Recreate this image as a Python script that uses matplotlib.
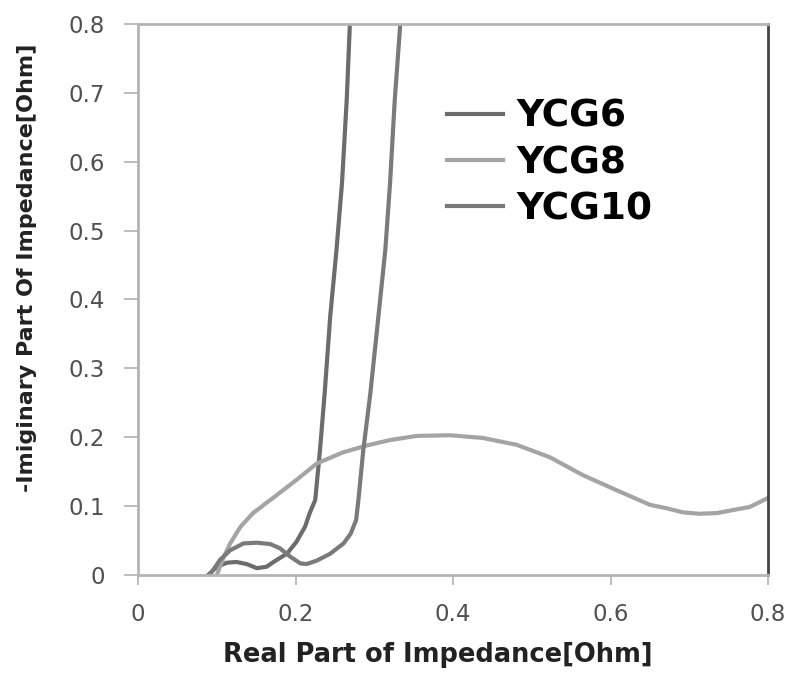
import matplotlib
matplotlib.use('Agg')
import matplotlib.pyplot as plt

# Nyquist data
ycg6_re = [0.089, 0.100, 0.113, 0.125, 0.138, 0.151, 0.163, 0.176, 0.189, 0.201,
           0.212, 0.218, 0.225, 0.231, 0.237, 0.244, 0.252, 0.259, 0.265, 0.269]
ycg6_im = [0.000, 0.012, 0.018, 0.019, 0.016, 0.010, 0.012, 0.022, 0.031, 0.048,
           0.070, 0.090, 0.109, 0.181, 0.264, 0.375, 0.472, 0.569, 0.690, 0.800]

ycg8_re = [0.100, 0.108, 0.117, 0.130, 0.146, 0.168, 0.201, 0.227, 0.260, 0.290,
           0.320, 0.354, 0.396, 0.438, 0.481, 0.523, 0.565, 0.608, 0.650, 0.671,
           0.692, 0.713, 0.735, 0.777, 0.800]
ycg8_im = [0.000, 0.024, 0.046, 0.070, 0.090, 0.109, 0.138, 0.162, 0.178, 0.188,
           0.196, 0.202, 0.203, 0.199, 0.189, 0.171, 0.145, 0.123, 0.102, 0.097,
           0.091, 0.089, 0.090, 0.099, 0.112]

ycg10_re = [0.091, 0.104, 0.117, 0.134, 0.151, 0.168, 0.180, 0.193, 0.206, 0.214,
            0.227, 0.244, 0.261, 0.270, 0.277, 0.280, 0.286, 0.295, 0.303, 0.314,
            0.320, 0.326, 0.333]
ycg10_im = [0.000, 0.022, 0.036, 0.046, 0.047, 0.045, 0.039, 0.027, 0.017, 0.016,
            0.021, 0.031, 0.046, 0.060, 0.080, 0.111, 0.181, 0.264, 0.351, 0.472,
            0.569, 0.690, 0.800]

ticks = [0, 0.1, 0.2, 0.3, 0.4, 0.5, 0.6, 0.7, 0.8]
xticks = [0, 0.2, 0.4, 0.6, 0.8]
tick_labels_y = ['0', '0.1', '0.2', '0.3', '0.4', '0.5', '0.6', '0.7', '0.8']
tick_labels_x = ['0', '0.2', '0.4', '0.6', '0.8']

fig = plt.figure(figsize=(7.91, 6.83), dpi=100)
ax = fig.add_axes([0.1745, 0.158, 0.7965, 0.807])

ax.plot(ycg6_re, ycg6_im, color='#6c6c6c', lw=3, label='YCG6')
ax.plot(ycg8_re, ycg8_im, color='#a4a4a4', lw=3, label='YCG8')
ax.plot(ycg10_re, ycg10_im, color='#7a7a7a', lw=3, label='YCG10')

ax.set_xlim(0, 0.8)
ax.set_ylim(0, 0.8)
ax.set_xticks(xticks)
ax.set_xticklabels(tick_labels_x)
ax.set_yticks(ticks)
ax.set_yticklabels(tick_labels_y)
ax.tick_params(axis='y', length=10, width=1.2, color='#b0b0b0', labelcolor='#505050',
               labelsize=16.5, pad=14)
ax.tick_params(axis='x', length=7, width=1.2, color='#b0b0b0', labelcolor='#505050',
               labelsize=16.5, pad=13)

for side in ['left', 'bottom', 'top']:
    ax.spines[side].set_color('#b4b4b4')
    ax.spines[side].set_linewidth(2)
ax.spines['right'].set_color('#444444')
ax.spines['right'].set_linewidth(2)

ax.set_xlabel('Real Part of Impedance[Ohm]', fontsize=18.5, fontweight='bold',
              color='#222222')
ax.xaxis.set_label_coords(0.476, -0.121)
ax.set_ylabel('-Imiginary Part Of Impedance[Ohm]', fontsize=16, fontweight='semibold',
              color='#222222')
ax.yaxis.set_label_coords(-0.16, 0.557)

ax.legend(loc='upper left', bbox_to_anchor=(0.437, 0.925), frameon=False,
          prop={'size': 27, 'weight': 'bold'}, handlelength=1.5,
          handletextpad=0.35, labelspacing=0.27)

fig.savefig('out.png', dpi=100)
